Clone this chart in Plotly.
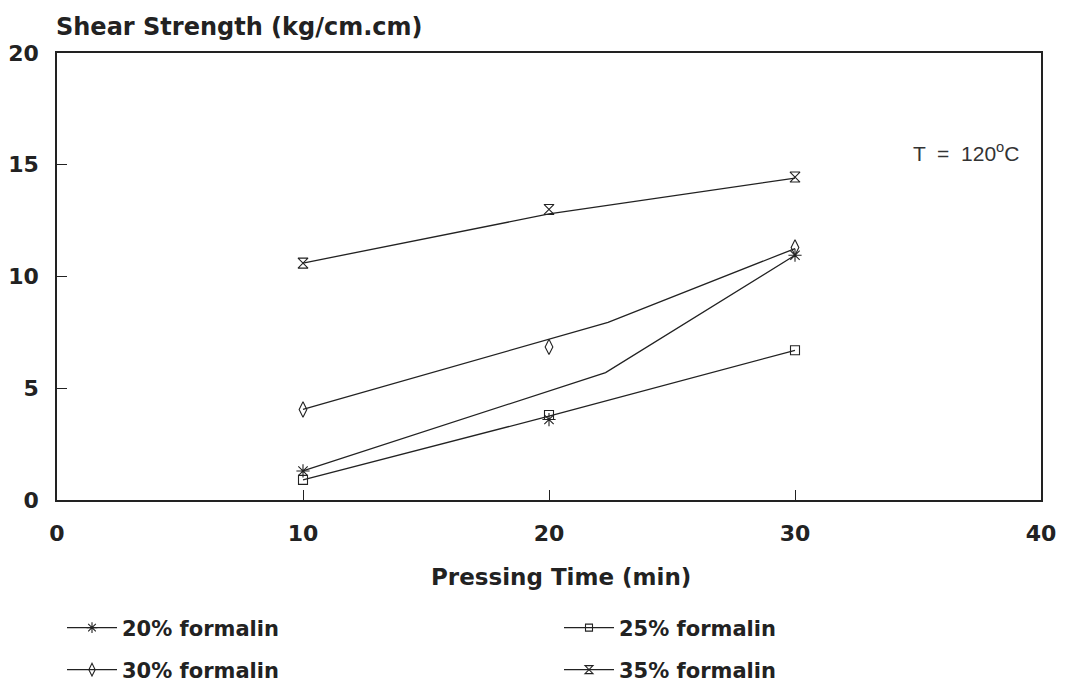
import plotly.graph_objects as go

# Measured shear strength at each pressing time
press_time = [10, 20, 30]
strength_20 = [1.3, 3.6, 10.95]
strength_25 = [0.9, 3.8, 6.7]
strength_30 = [4.05, 6.85, 11.3]
strength_35 = [10.6, 13.0, 14.45]

# Fitted trend curves drawn through each series
fit_x_20 = [10, 22.3, 30]
fit_y_20 = [1.3, 5.7, 10.95]
fit_x_25 = [10, 20, 30]
fit_y_25 = [0.9, 3.75, 6.7]
fit_x_30 = [10, 22.4, 30]
fit_y_30 = [4.05, 7.95, 11.25]
fit_x_35 = [10, 20, 30]
fit_y_35 = [10.6, 12.8, 14.4]

series_names = ["20% formalin", "25% formalin", "30% formalin", "35% formalin"]
x_ticks = [0, 10, 20, 30, 40]
y_ticks = [0, 5, 10, 15, 20]

INK = "#222222"
FONT = "DejaVu Sans"

# plot-box geometry in pixels (used to place annotations in paper units)
W, H = 1076, 685
L, R, T, B = 57, 35, 53, 185


def px(x):
    return (x - L) / (W - L - R)


def py(y):
    return (H - B - y) / (H - B - T)


# name, values, fit x, fit y, marker, size, legend id, legend left px, legend row px
series = [
    (series_names[0], strength_20, fit_x_20, fit_y_20, "asterisk-open", 11, "legend", 62, 628),
    (series_names[1], strength_25, fit_x_25, fit_y_25, "square-open", 9, "legend2", 559, 628),
    (series_names[2], strength_30, fit_x_30, fit_y_30, "diamond-tall-open", 11, "legend3", 62, 670),
    (series_names[3], strength_35, fit_x_35, fit_y_35, "hourglass-open", 10, "legend4", 559, 670),
]

legend_style = dict(
    orientation="h", xanchor="left", yanchor="middle", itemwidth=50,
    font=dict(family=FONT, size=21, color=INK, weight="bold"),
    bgcolor="rgba(0,0,0,0)", borderwidth=0,
)

fig = go.Figure()
legends = {}
for name, vals, fx, fy, sym, size, leg, lx, ly in series:
    fig.add_trace(go.Scatter(
        x=fx, y=fy, mode="lines", showlegend=False, hoverinfo="skip",
        line=dict(color=INK, width=1.3),
    ))
    fig.add_trace(go.Scatter(
        x=press_time, y=vals, mode="markers", showlegend=False, name=name,
        marker=dict(symbol=sym, size=size, color=INK, line=dict(color=INK, width=1.1)),
    ))
    # legend entry: line with marker
    fig.add_trace(go.Scatter(
        x=[None], y=[None], mode="lines+markers", name=name, legend=leg,
        line=dict(color=INK, width=1.3),
        marker=dict(symbol=sym, size=size - 2, color=INK, line=dict(color=INK, width=1.1)),
    ))
    legends[leg] = dict(x=px(lx), y=py(ly), **legend_style)

fig.update_layout(
    width=W, height=H, autosize=False,
    margin=dict(l=L, r=R, t=T, b=B, autoexpand=False),
    paper_bgcolor="white", plot_bgcolor="white",
    showlegend=True,
    xaxis=dict(
        range=[0, 40], tickvals=x_ticks, ticktext=[str(v) for v in x_ticks],
        showgrid=False, zeroline=False,
        showline=True, linecolor=INK, linewidth=1.5, mirror=True,
        ticks="inside", ticklen=10, tickcolor=INK, tickwidth=1.2,
        ticklabelstandoff=13,
        tickfont=dict(family=FONT, size=22, color=INK, weight="bold"),
    ),
    yaxis=dict(
        range=[0, 20], tickvals=y_ticks, ticktext=[str(v) for v in y_ticks],
        showgrid=False, zeroline=False,
        showline=True, linecolor=INK, linewidth=1.5, mirror=True,
        ticks="inside", ticklen=10, tickcolor=INK, tickwidth=1.2,
        ticklabelstandoff=12,
        tickfont=dict(family=FONT, size=22, color=INK, weight="bold"),
    ),
    annotations=[
        dict(text="Shear Strength (kg/cm.cm)", xref="paper", yref="paper",
             x=px(54), y=py(27), xanchor="left", yanchor="middle", showarrow=False,
             font=dict(family=FONT, size=24, color=INK, weight="bold")),
        dict(text="Pressing Time (min)", xref="paper", yref="paper",
             x=px(561), y=py(577), xanchor="center", yanchor="middle", showarrow=False,
             font=dict(family=FONT, size=23, color=INK, weight="bold")),
        dict(text="T  =  120<sup>o</sup>C", xref="paper", yref="paper",
             x=px(966), y=py(152), xanchor="center", yanchor="middle", showarrow=False,
             font=dict(family="Liberation Sans", size=21, color="#333333")),
    ],
)
fig.update_layout(**legends)

fig.write_html("out.html")
